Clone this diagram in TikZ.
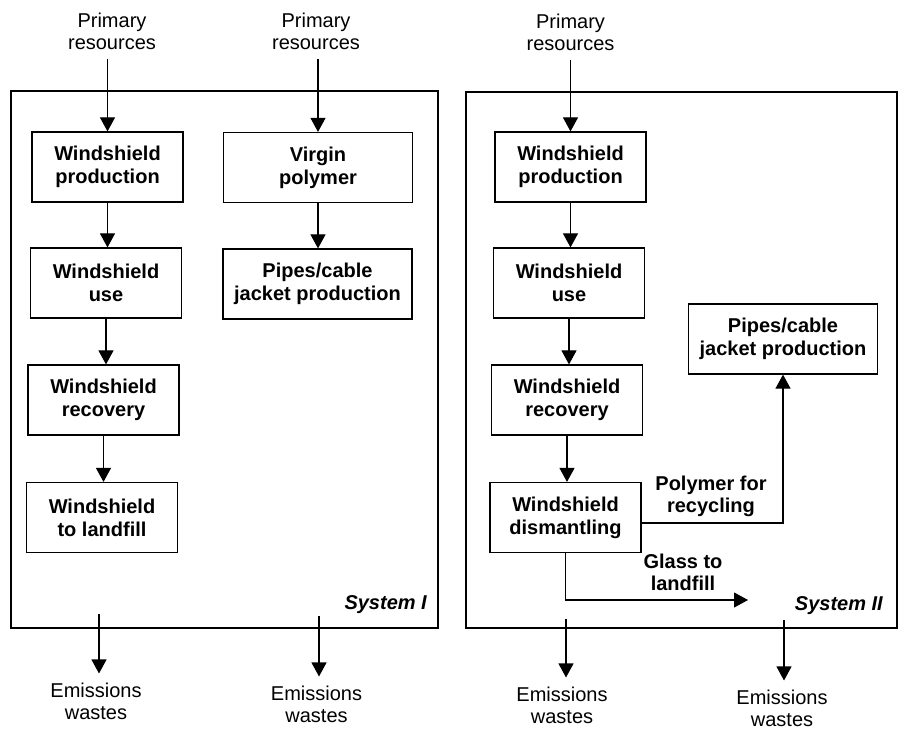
\documentclass[tikz,border=0pt]{standalone}
\usepackage{fontspec}
\setmainfont{Liberation Sans}
\usetikzlibrary{arrows.meta}
\tikzset{
  proc/.style={draw,line width=1.2pt,minimum width=151pt,minimum height=70pt,
    inner sep=2pt,align=center,font=\fontsize{20}{23}\selectfont\bfseries},
  wideproc/.style={proc,minimum width=189pt},
  flow/.style={line width=1.1pt,-{Triangle[length=14pt,width=15pt]}},
  io/.style={align=center,inner sep=9pt,font=\fontsize{20}{22}\selectfont},
  lbl/.style={align=center,inner sep=0pt,font=\fontsize{20}{22}\selectfont\bfseries},
  sysname/.style={anchor=base east,inner sep=0pt,font=\fontsize{20}{22}\selectfont\bfseries\itshape},
  frame/.style={line width=1.5pt}
}
\begin{document}
\begin{tikzpicture}[x=1pt,y=-1pt]
\useasboundingbox (0,0) rectangle (902,729);

% system I
\draw[frame] (11,91) rectangle (438,628);
\node[io] (pr1) at (112,31) {Primary\\resources};
\node[io] (pr2) at (316,31) {Primary\\resources};
\node[proc] (wp1) at (107.5,167) {Windshield\\production};
\node[proc] (wu1) at (106,283) {Windshield\\use};
\node[proc] (wr1) at (103.5,400) {Windshield\\recovery};
\node[proc] (wl1) at (102,517.5) {Windshield\\to landfill};
\node[wideproc] (vp1) at (318,167.5) {Virgin\\polymer};
\node[wideproc] (pj1) at (317.5,284) {Pipes/cable\\jacket production};
\node[sysname] (s1) at (427,609) {System I};
\node[io] (em1) at (96,701) {Emissions\\wastes};
\node[io] (em2) at (316.5,704) {Emissions\\wastes};
\coordinate (e1) at (99,614);
\coordinate (e2) at (319,616);

\draw[flow] (wp1.north |- pr1.south) -- (wp1.north);
\draw[flow] (vp1.north |- pr2.south) -- (vp1.north);
\draw[flow] (wp1.south) -- (wp1.south |- wu1.north);
\draw[flow] (wu1.south) -- (wu1.south |- wr1.north);
\draw[flow] (wr1.south) -- (wr1.south |- wl1.north);
\draw[flow] (vp1.south) -- (vp1.south |- pj1.north);
\draw[flow] (e1) -- (e1 |- em1.north);
\draw[flow] (e2) -- (e2 |- em2.north);

% system II
\draw[frame] (466,92) rectangle (897,628);
\node[io] (pr3) at (570.5,32) {Primary\\resources};
\node[proc] (wp2) at (570.5,167) {Windshield\\production};
\node[proc] (wu2) at (569,283) {Windshield\\use};
\node[proc] (wr2) at (567,400) {Windshield\\recovery};
\node[proc] (wd2) at (565.5,517.5) {Windshield\\dismantling};
\node[wideproc] (pj2) at (783,339) {Pipes/cable\\jacket production};
\node[lbl] (poly) at (711,496) {Polymer for\\recycling};
\node[lbl] (glass) at (683,572) {Glass to\\landfill};
\node[sysname] (s2) at (883,610) {System II};
\node[io] (em3) at (562,705) {Emissions\\wastes};
\node[io] (em4) at (782,708) {Emissions\\wastes};
\coordinate (gl) at (748,600);
\coordinate (e3) at (566,619);
\coordinate (e4) at (784,620);

\draw[flow] (wp2.north |- pr3.south) -- (wp2.north);
\draw[flow] (wp2.south) -- (wp2.south |- wu2.north);
\draw[flow] (wu2.south) -- (wu2.south |- wr2.north);
\draw[flow] (wr2.south) -- (wr2.south |- wd2.north);
\draw[flow] ([yshift=-5.5pt]wd2.east) -| (pj2.south);
\draw[flow] (wd2.south) |- (gl);
\draw[flow] (e3) -- (e3 |- em3.north);
\draw[flow] (e4) -- (e4 |- em4.north);
\end{tikzpicture}
\end{document}
